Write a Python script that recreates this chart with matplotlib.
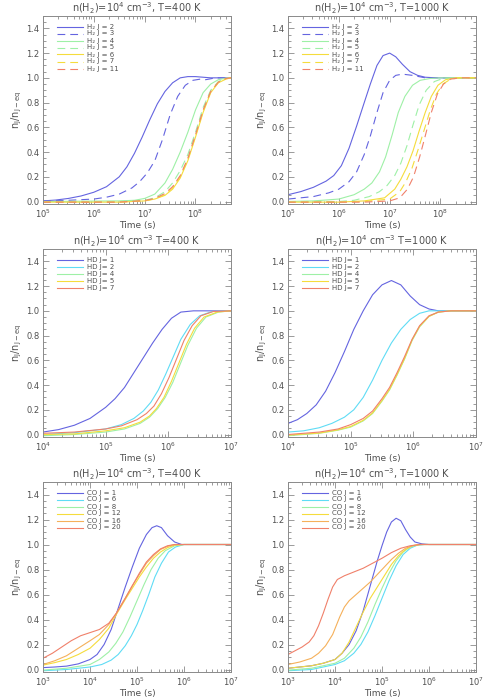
import matplotlib
matplotlib.use('Agg')
import matplotlib.pyplot as plt
from matplotlib.ticker import MultipleLocator, LogLocator, NullFormatter
import numpy as np

# ---- data: (log10 time, n_J/n_J-eq) ----
# H2, T=400 K : J = 2, 3, 4, 5, 6, 7, 11
h2_400 = [
    ([5, 5.25, 5.5, 5.75, 6, 6.25, 6.5, 6.65, 6.8, 6.95, 7.1, 7.25, 7.4, 7.55, 7.7, 7.85, 8.0, 8.3, 8.7],
     [0.005, 0.012, 0.025, 0.045, 0.075, 0.12, 0.2, 0.28, 0.39, 0.52, 0.66, 0.79, 0.89, 0.96, 1.0, 1.01, 1.01, 1.0, 1.0]),
    ([5, 5.5, 6, 6.25, 6.5, 6.75, 6.9, 7.05, 7.2, 7.35, 7.5, 7.65, 7.8, 7.95, 8.1, 8.2, 8.4, 8.7],
     [0.005, 0.01, 0.02, 0.035, 0.06, 0.11, 0.16, 0.23, 0.33, 0.5, 0.7, 0.85, 0.94, 0.98, 0.99, 0.985, 1.0, 1.0]),
    ([5, 6.5, 6.8, 7.0, 7.2, 7.4, 7.55, 7.7, 7.85, 8.0, 8.15, 8.3, 8.45, 8.6, 8.7],
     [0.0, 0.005, 0.01, 0.025, 0.06, 0.15, 0.26, 0.4, 0.56, 0.74, 0.88, 0.95, 0.985, 0.998, 1.0]),
    ([5, 6.5, 7, 7.2, 7.4, 7.55, 7.7, 7.85, 8.0, 8.15, 8.3, 8.45, 8.6, 8.7],
     [0.0, 0.0, 0.01, 0.03, 0.08, 0.15, 0.25, 0.38, 0.56, 0.76, 0.9, 0.97, 0.995, 1.0]),
    ([5, 6.5, 7, 7.2, 7.4, 7.55, 7.7, 7.85, 8.0, 8.15, 8.3, 8.45, 8.6, 8.7],
     [-0.005, -0.005, 0.005, 0.02, 0.05, 0.1, 0.19, 0.33, 0.52, 0.72, 0.88, 0.96, 0.99, 1.0]),
    ([5, 6.5, 7, 7.2, 7.4, 7.55, 7.7, 7.85, 8.0, 8.15, 8.3, 8.45, 8.6, 8.7],
     [-0.005, -0.005, 0.005, 0.022, 0.055, 0.11, 0.2, 0.34, 0.53, 0.73, 0.89, 0.965, 0.993, 1.0]),
    ([5, 6.5, 7, 7.2, 7.4, 7.55, 7.7, 7.85, 8.0, 8.15, 8.3, 8.45, 8.6, 8.7],
     [-0.005, -0.005, 0.008, 0.025, 0.065, 0.12, 0.21, 0.35, 0.54, 0.74, 0.89, 0.965, 0.995, 1.0]),
]
# H2, T=1000 K
h2_1000 = [
    ([5, 5.25, 5.5, 5.75, 5.9, 6.05, 6.2, 6.35, 6.5, 6.62, 6.75, 6.87, 7.0, 7.12, 7.25, 7.4, 7.55, 7.7, 7.9, 8.7],
     [0.055, 0.08, 0.115, 0.165, 0.21, 0.29, 0.43, 0.61, 0.8, 0.95, 1.1, 1.18, 1.2, 1.17, 1.11, 1.05, 1.02, 1.005, 1.0, 1.0]),
    ([5, 5.5, 5.8, 6.0, 6.2, 6.35, 6.5, 6.62, 6.75, 6.87, 7.0, 7.12, 7.25, 7.45, 7.7, 8.7],
     [0.02, 0.04, 0.07, 0.1, 0.16, 0.24, 0.38, 0.53, 0.72, 0.88, 0.98, 1.02, 1.03, 1.02, 1.0, 1.0]),
    ([5, 5.5, 6.0, 6.3, 6.5, 6.65, 6.8, 6.92, 7.05, 7.17, 7.3, 7.45, 7.6, 7.8, 8.0, 8.7],
     [0.0, 0.005, 0.02, 0.055, 0.1, 0.15, 0.24, 0.36, 0.54, 0.72, 0.85, 0.94, 0.98, 0.995, 1.0, 1.0]),
    ([5, 6.0, 6.3, 6.6, 6.8, 6.95, 7.1, 7.22, 7.34, 7.46, 7.58, 7.72, 7.88, 8.05, 8.3, 8.7],
     [0.0, 0.0, 0.01, 0.04, 0.08, 0.13, 0.21, 0.31, 0.45, 0.62, 0.78, 0.9, 0.97, 0.995, 1.0, 1.0]),
    ([5, 6.0, 6.5, 6.9, 7.1, 7.22, 7.34, 7.46, 7.58, 7.7, 7.82, 7.95, 8.1, 8.3, 8.7],
     [-0.005, -0.005, 0.005, 0.03, 0.1, 0.18, 0.28, 0.41, 0.57, 0.72, 0.85, 0.94, 0.985, 1.0, 1.0]),
    ([5, 6.0, 6.5, 7.0, 7.2, 7.32, 7.44, 7.56, 7.68, 7.8, 7.92, 8.05, 8.2, 8.4, 8.7],
     [-0.005, -0.005, 0.0, 0.02, 0.08, 0.16, 0.27, 0.42, 0.58, 0.74, 0.87, 0.95, 0.99, 1.0, 1.0]),
    ([5, 6.0, 6.5, 7.0, 7.2, 7.35, 7.47, 7.59, 7.7, 7.82, 7.94, 8.06, 8.2, 8.4, 8.7],
     [-0.005, -0.005, -0.005, 0.005, 0.03, 0.1, 0.2, 0.36, 0.53, 0.72, 0.87, 0.95, 0.99, 1.0, 1.0]),
]
# HD, T=400 K : J = 1, 2, 4, 5, 7
hd_400 = [
    ([4.0, 4.25, 4.5, 4.75, 5.0, 5.15, 5.3, 5.45, 5.6, 5.75, 5.9, 6.05, 6.2, 6.4, 7.0],
     [0.02, 0.04, 0.075, 0.13, 0.22, 0.29, 0.38, 0.5, 0.62, 0.74, 0.85, 0.94, 0.99, 1.0, 1.0]),
    ([4.0, 4.5, 5.0, 5.25, 5.45, 5.6, 5.72, 5.84, 5.96, 6.08, 6.2, 6.35, 6.5, 6.7, 7.0],
     [0.0, 0.015, 0.045, 0.08, 0.13, 0.19, 0.26, 0.36, 0.49, 0.63, 0.77, 0.89, 0.96, 0.995, 1.0]),
    ([4.0, 4.5, 5.0, 5.3, 5.55, 5.7, 5.83, 5.95, 6.07, 6.19, 6.31, 6.45, 6.6, 6.8, 7.0],
     [-0.01, 0.0, 0.02, 0.045, 0.09, 0.14, 0.21, 0.3, 0.42, 0.57, 0.72, 0.86, 0.95, 0.99, 1.0]),
    ([4.0, 4.5, 5.0, 5.3, 5.55, 5.7, 5.81, 5.93, 6.05, 6.17, 6.29, 6.42, 6.57, 6.78, 7.0],
     [0.0, 0.005, 0.03, 0.055, 0.1, 0.15, 0.21, 0.3, 0.43, 0.58, 0.73, 0.86, 0.95, 0.99, 1.0]),
    ([4.0, 4.5, 5.0, 5.25, 5.5, 5.65, 5.77, 5.89, 6.01, 6.13, 6.25, 6.38, 6.52, 6.72, 7.0],
     [0.01, 0.02, 0.045, 0.07, 0.12, 0.17, 0.23, 0.33, 0.46, 0.61, 0.76, 0.88, 0.96, 0.995, 1.0]),
]
# HD, T=1000 K
hd_t = [4.0, 4.5, 4.8, 5.0, 5.2, 5.35, 5.5, 5.62, 5.74, 5.86, 5.98, 6.1, 6.25, 6.4, 6.6, 7.0]
hd_1000 = [
    ([4.0, 4.15, 4.3, 4.45, 4.6, 4.75, 4.9, 5.05, 5.2, 5.35, 5.5, 5.65, 5.8, 5.95, 6.1, 6.25, 6.4, 7.0],
     [0.09, 0.12, 0.17, 0.24, 0.35, 0.5, 0.67, 0.85, 1.0, 1.13, 1.21, 1.245, 1.21, 1.12, 1.05, 1.015, 1.0, 1.0]),
    ([4.0, 4.25, 4.5, 4.7, 4.9, 5.05, 5.2, 5.35, 5.5, 5.65, 5.8, 5.95, 6.1, 6.25, 7.0],
     [0.02, 0.03, 0.055, 0.09, 0.14, 0.2, 0.3, 0.44, 0.6, 0.74, 0.85, 0.93, 0.98, 1.0, 1.0]),
    (hd_t, [-0.01, 0.01, 0.035, 0.06, 0.11, 0.17, 0.27, 0.36, 0.48, 0.61, 0.76, 0.87, 0.955, 0.99, 1.0, 1.0]),
    (hd_t, [-0.005, 0.012, 0.038, 0.065, 0.115, 0.175, 0.275, 0.365, 0.485, 0.615, 0.765, 0.875, 0.955, 0.99, 1.0, 1.0]),
    (hd_t, [0.0, 0.02, 0.045, 0.08, 0.13, 0.19, 0.29, 0.38, 0.5, 0.63, 0.77, 0.88, 0.96, 0.99, 1.0, 1.0]),
]
# CO, T=400 K : J = 1, 6, 8, 12, 16, 20
co_400 = [
    ([3.0, 3.25, 3.5, 3.75, 4.0, 4.15, 4.3, 4.45, 4.6, 4.75, 4.9, 5.05, 5.2, 5.32, 5.42, 5.52, 5.65, 5.8, 5.95, 7.0],
     [0.015, 0.02, 0.027, 0.045, 0.08, 0.12, 0.2, 0.32, 0.49, 0.66, 0.82, 0.97, 1.08, 1.135, 1.15, 1.135, 1.07, 1.02, 1.0, 1.0]),
    ([3.0, 3.5, 4.0, 4.25, 4.45, 4.6, 4.75, 4.88, 5.0, 5.12, 5.25, 5.38, 5.52, 5.67, 5.82, 6.0, 7.0],
     [-0.01, 0.0, 0.02, 0.04, 0.075, 0.12, 0.19, 0.27, 0.36, 0.47, 0.6, 0.74, 0.85, 0.94, 0.98, 1.0, 1.0]),
    ([3.0, 3.5, 4.0, 4.2, 4.4, 4.55, 4.7, 4.85, 5.0, 5.15, 5.3, 5.45, 5.6, 5.8, 6.0, 7.0],
     [-0.005, 0.01, 0.04, 0.08, 0.14, 0.21, 0.3, 0.42, 0.55, 0.68, 0.8, 0.89, 0.95, 0.99, 1.0, 1.0]),
    ([3.0, 3.25, 3.5, 3.75, 4.0, 4.2, 4.4, 4.56, 4.75, 4.9, 5.05, 5.2, 5.35, 5.5, 5.65, 5.8, 6.0, 7.0],
     [0.035, 0.055, 0.08, 0.12, 0.17, 0.24, 0.33, 0.44, 0.56, 0.65, 0.74, 0.82, 0.89, 0.94, 0.975, 0.995, 1.0, 1.0]),
    ([3.0, 3.25, 3.5, 3.75, 4.0, 4.2, 4.4, 4.56, 4.75, 4.9, 5.05, 5.2, 5.35, 5.5, 5.65, 5.8, 7.0],
     [0.04, 0.07, 0.11, 0.17, 0.23, 0.28, 0.36, 0.45, 0.57, 0.67, 0.76, 0.85, 0.91, 0.96, 0.985, 1.0, 1.0]),
    ([3.0, 3.2, 3.4, 3.6, 3.8, 4.0, 4.2, 4.4, 4.56, 4.75, 4.9, 5.05, 5.2, 5.35, 5.5, 5.65, 5.8, 7.0],
     [0.09, 0.13, 0.18, 0.23, 0.27, 0.295, 0.32, 0.37, 0.45, 0.57, 0.67, 0.77, 0.86, 0.92, 0.965, 0.99, 1.0, 1.0]),
]
# CO, T=1000 K
co_1000 = [
    ([3.0, 3.25, 3.5, 3.75, 4.0, 4.15, 4.3, 4.45, 4.6, 4.75, 4.9, 5.0, 5.1, 5.2, 5.3, 5.4, 5.5, 5.6, 5.7, 5.85, 6.0, 7.0],
     [0.01, 0.02, 0.03, 0.05, 0.08, 0.13, 0.2, 0.31, 0.47, 0.67, 0.87, 0.99, 1.1, 1.18, 1.21, 1.19, 1.12, 1.06, 1.02, 1.005, 1.0, 1.0]),
    ([3.0, 3.5, 4.0, 4.2, 4.4, 4.55, 4.7, 4.85, 5.0, 5.15, 5.3, 5.45, 5.6, 5.75, 5.9, 7.0],
     [-0.01, 0.0, 0.04, 0.07, 0.13, 0.2, 0.3, 0.43, 0.57, 0.71, 0.83, 0.92, 0.97, 0.995, 1.0, 1.0]),
    ([3.0, 3.5, 4.0, 4.2, 4.4, 4.55, 4.7, 4.85, 5.0, 5.15, 5.3, 5.45, 5.6, 5.75, 5.9, 7.0],
     [-0.005, 0.01, 0.05, 0.09, 0.17, 0.26, 0.38, 0.52, 0.65, 0.77, 0.87, 0.94, 0.98, 0.995, 1.0, 1.0]),
    ([3.0, 3.25, 3.5, 3.75, 4.0, 4.15, 4.3, 4.45, 4.6, 4.75, 4.9, 5.05, 5.2, 5.35, 5.5, 5.65, 5.8, 7.0],
     [0.01, 0.02, 0.03, 0.05, 0.08, 0.13, 0.22, 0.34, 0.46, 0.57, 0.66, 0.75, 0.84, 0.91, 0.96, 0.99, 1.0, 1.0]),
    ([3.0, 3.25, 3.5, 3.65, 3.8, 3.95, 4.1, 4.2, 4.3, 4.45, 4.6, 4.75, 4.9, 5.05, 5.2, 5.35, 5.5, 5.65, 5.8, 7.0],
     [0.04, 0.06, 0.09, 0.13, 0.19, 0.28, 0.42, 0.5, 0.55, 0.6, 0.65, 0.7, 0.76, 0.82, 0.88, 0.93, 0.97, 0.99, 1.0, 1.0]),
    ([3.0, 3.15, 3.3, 3.45, 3.55, 3.65, 3.75, 3.85, 3.95, 4.05, 4.2, 4.4, 4.6, 4.8, 5.0, 5.2, 5.4, 5.6, 5.8, 7.0],
     [0.12, 0.15, 0.18, 0.22, 0.27, 0.35, 0.45, 0.56, 0.66, 0.72, 0.75, 0.78, 0.81, 0.85, 0.89, 0.935, 0.97, 0.99, 1.0, 1.0]),
]

h2_labels = ['H\u2082 J = 2', 'H\u2082 J = 3', 'H\u2082 J = 4', 'H\u2082 J = 5',
             'H\u2082 J = 6', 'H\u2082 J = 7', 'H\u2082 J = 11']
hd_labels = ['HD J= 1', 'HD J= 2', 'HD J= 4', 'HD J= 5', 'HD J= 7']
co_labels = ['CO J = 1', 'CO J = 6', 'CO J = 8', 'CO J = 12', 'CO J = 16', 'CO J = 20']

titles = ['n(H$_2$)=10$^4$ cm$^{-3}$, T=400 K', 'n(H$_2$)=10$^4$ cm$^{-3}$, T=1000 K',
          'n(H$_2$)=10$^4$ cm$^{-3}$ T=400 K', 'n(H$_2$)=10$^4$ cm$^{-3}$ T=1000 K',
          'n(H$_2$)=10$^4$ cm$^{-3}$, T=400 K', 'n(H$_2$)=10$^4$ cm$^{-3}$, T=1000 K']
xlims = [(1e5, 5e8), (1e5, 5e8), (1e4, 1e7), (1e4, 1e7), (1e3, 1e7), (1e3, 1e7)]

# ---- styles ----
BLUE = '#6464e0'
CYAN = '#5fdcf5'
GREEN = '#9ef0a6'
YELLOW = '#f5dc3c'
ORANGE = '#f5b05a'
RED = '#f0806a'
DASH = (0, (7, 4.5))

h2_style = [(BLUE, '-'), (BLUE, DASH), (GREEN, '-'), (GREEN, DASH),
            (YELLOW, '-'), (YELLOW, DASH), (RED, DASH)]
hd_style = [(BLUE, '-'), (CYAN, '-'), (GREEN, '-'), (YELLOW, '-'), (RED, '-')]
co_style = [(BLUE, '-'), (CYAN, '-'), (GREEN, '-'), (YELLOW, '-'), (ORANGE, '-'), (RED, '-')]

TXT = '#505050'
AX = '#8a8a8a'
plt.rcParams['font.family'] = 'DejaVu Sans'
plt.rcParams['mathtext.default'] = 'regular'

fig = plt.figure(figsize=(4.9, 7), dpi=100)
W, H = 490., 700.
rows = [(16, 204), (249, 437), (482, 672)]
cols = [(43, 231), (288, 476)]

panels = [(h2_400, h2_labels, h2_style), (h2_1000, h2_labels, h2_style),
          (hd_400, hd_labels, hd_style), (hd_1000, hd_labels, hd_style),
          (co_400, co_labels, co_style), (co_1000, co_labels, co_style)]

for k, (curves, labels, styles) in enumerate(panels):
    r, c = divmod(k, 2)
    top, bot = rows[r]
    left, right = cols[c]
    hpx = bot - top
    ax = fig.add_axes([left / W, 1 - bot / H, (right - left) / W, hpx / H])

    for (lt, v), (col, ls) in zip(curves, styles):
        ax.plot(10 ** np.array(lt), v, color=col, ls=ls, lw=0.8)

    ax.set_xscale('log')
    ax.set_xlim(*xlims[k])
    ax.set_ylim(-0.02, 1.5)
    ax.set_yticks(np.arange(0, 1.41, 0.2))
    ax.yaxis.set_minor_locator(MultipleLocator(0.05))
    ax.xaxis.set_major_locator(LogLocator(base=10, numticks=10))
    ax.xaxis.set_minor_locator(LogLocator(base=10, subs=np.arange(2, 10), numticks=10))
    ax.xaxis.set_minor_formatter(NullFormatter())
    ax.tick_params(which='both', direction='in', top=True, right=True,
                   colors=AX, labelcolor=TXT, labelsize=6, width=0.6)
    ax.tick_params(which='major', length=4, pad=2.5)
    ax.tick_params(which='minor', length=2)
    for s in ax.spines.values():
        s.set_color(AX)
        s.set_linewidth(0.7)

    ax.set_title(titles[k], fontsize=7, color=TXT, pad=3)
    ax.set_xlabel('Time (s)', fontsize=6.5, color=TXT, labelpad=1)
    ax.set_ylabel('n$_J$/n$_{J-eq}$', fontsize=7, color=TXT, labelpad=2)

    # legend drawn IDL-style in the upper left
    for i, ((col, ls), lab) in enumerate(zip(styles, labels)):
        y = 1 - (10.5 + 7.0 * i) / hpx
        ax.plot([0.074, 0.213], [y, y], transform=ax.transAxes, color=col, ls=ls, lw=0.8)
        ax.text(0.235, y, lab, transform=ax.transAxes, fontsize=5.0, color=TXT, va='center')

fig.savefig('out.png', dpi=100)
